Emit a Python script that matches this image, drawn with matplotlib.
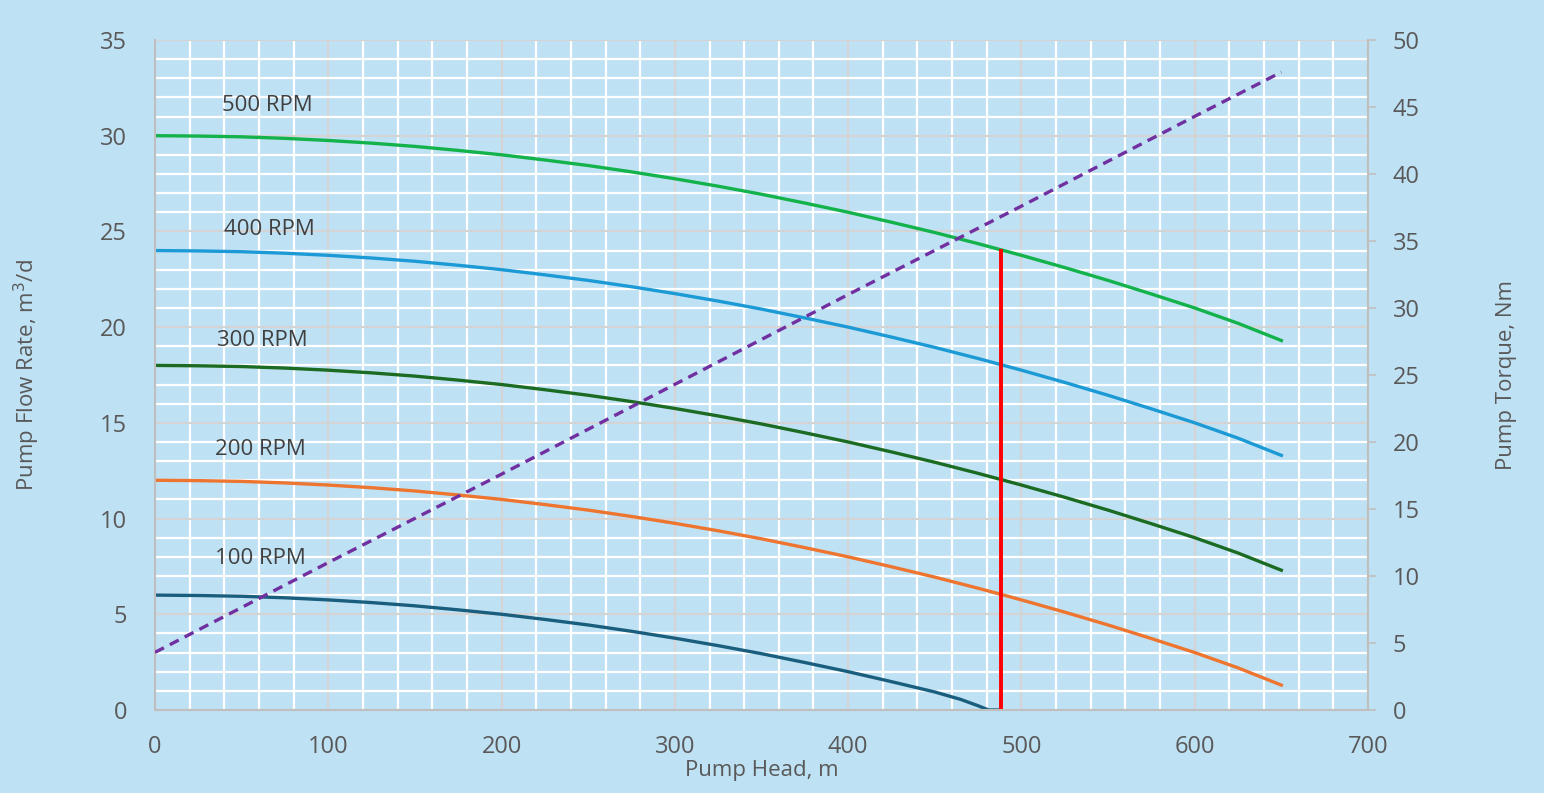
import matplotlib.pyplot as plt
from matplotlib.ticker import MultipleLocator

head = [0, 25, 50, 75, 100, 125, 150, 175, 200, 225, 250, 275, 300, 325,
        350, 375, 400, 425, 450, 475, 500, 525, 550, 575, 600, 625, 650]

# flow rate curves, m3/d
q_500 = [30.0, 29.98, 29.94, 29.86, 29.75, 29.61, 29.44, 29.23, 29.0, 28.73,
         28.44, 28.11, 27.75, 27.36, 26.94, 26.48, 26.0, 25.48, 24.94, 24.36,
         23.75, 23.11, 22.44, 21.73, 21.0, 20.2, 19.3]
q_400 = [24.0, 23.98, 23.94, 23.86, 23.75, 23.61, 23.44, 23.23, 23.0, 22.73,
         22.44, 22.11, 21.75, 21.36, 20.94, 20.48, 20.0, 19.48, 18.94, 18.36,
         17.75, 17.11, 16.44, 15.73, 15.0, 14.2, 13.3]
q_300 = [18.0, 17.98, 17.94, 17.86, 17.75, 17.61, 17.44, 17.23, 17.0, 16.73,
         16.44, 16.11, 15.75, 15.36, 14.94, 14.48, 14.0, 13.48, 12.94, 12.36,
         11.75, 11.11, 10.44, 9.73, 9.0, 8.2, 7.3]
q_200 = [12.0, 11.98, 11.94, 11.86, 11.75, 11.61, 11.44, 11.23, 11.0, 10.73,
         10.44, 10.11, 9.75, 9.36, 8.94, 8.48, 8.0, 7.48, 6.94, 6.36,
         5.75, 5.11, 4.44, 3.73, 3.0, 2.2, 1.3]

head_100 = [0, 25, 50, 75, 100, 125, 150, 175, 200, 225, 250, 275, 300, 325,
            350, 375, 400, 425, 450, 465, 475, 481, 488]
q_100 = [6.0, 5.98, 5.94, 5.86, 5.75, 5.61, 5.44, 5.23, 5.0, 4.73,
         4.44, 4.11, 3.75, 3.36, 2.94, 2.48, 2.0, 1.48, 0.94, 0.55, 0.22, 0.0, 0.0]

# torque line (right axis), Nm
torque_head = [0, 100, 200, 300, 400, 500, 600, 650]
torque = [4.3, 11.0, 17.6, 24.3, 31.0, 37.6, 44.3, 47.6]

# operating point marker
op_head = 488
op_flow = 24.0

labels = ["500 RPM", "400 RPM", "300 RPM", "200 RPM", "100 RPM"]
label_x = [65, 66, 62, 61, 61]
label_y = [31.6, 25.1, 19.3, 13.6, 7.9]

bg = "#bfe1f4"
txt = "#595959"
plt.rcParams['font.family'] = ['Open Sans', 'DejaVu Sans']

fig = plt.figure(figsize=(15.44, 7.93), dpi=100, facecolor=bg)
ax1 = fig.add_axes([0.1004, 0.1047, 0.7856, 0.8449])
ax1.set_facecolor(bg)

ax1.set_xlim(0, 700)
ax1.set_ylim(0, 35)
ax1.xaxis.set_major_locator(MultipleLocator(100))
ax1.xaxis.set_minor_locator(MultipleLocator(20))
ax1.yaxis.set_major_locator(MultipleLocator(5))
ax1.yaxis.set_minor_locator(MultipleLocator(1))
ax1.grid(True, which="minor", color="white", linewidth=1.6)
ax1.grid(True, which="major", color="#d4d4d4", linewidth=1.6)
ax1.set_axisbelow(True)

for s in ["top", "right"]:
    ax1.spines[s].set_visible(False)
for s in ["left", "bottom"]:
    ax1.spines[s].set_color("#bfbfbf")
    ax1.spines[s].set_linewidth(1.5)

ax1.tick_params(which="both", length=0, colors=txt, labelsize=17)
ax1.tick_params(axis="x", pad=18)
ax1.tick_params(axis="y", pad=20)

ax1.plot(head, q_500, color="#13b24b", lw=2.4)
ax1.plot(head, q_400, color="#1c9ad6", lw=2.4)
ax1.plot(head, q_300, color="#1c6b22", lw=2.4)
ax1.plot(head, q_200, color="#ee7530", lw=2.4)
ax1.plot(head_100, q_100, color="#1a5e7e", lw=2.4)
ax1.plot([op_head, op_head], [0, op_flow], color="#ff0000", lw=2.8)

for lab, lx, ly in zip(labels, label_x, label_y):
    ax1.text(lx, ly, lab, ha="center", va="center", fontsize=16, color="#404040")

ax1.set_xlabel("Pump Head, m", fontsize=16, color=txt, labelpad=1)
ax1.set_ylabel("Pump Flow Rate, m$^3$/d", fontsize=16, color=txt, labelpad=42)

ax2 = ax1.twinx()
ax2.set_ylim(0, 50)
ax2.yaxis.set_major_locator(MultipleLocator(5))
for s in ["top", "left", "bottom"]:
    ax2.spines[s].set_visible(False)
ax2.spines["right"].set_color("#bfbfbf")
ax2.spines["right"].set_linewidth(1.5)
ax2.tick_params(axis="y", length=6, width=1.2, color="#bfbfbf", labelcolor=txt, labelsize=17, pad=12)
ax2.plot(torque_head, torque, color="#7030a0", lw=2.4, linestyle=(0, (3, 2)))
ax2.set_ylabel("Pump Torque, Nm", fontsize=16, color=txt, labelpad=55)

fig.savefig("out.png", dpi=100, facecolor=bg)
